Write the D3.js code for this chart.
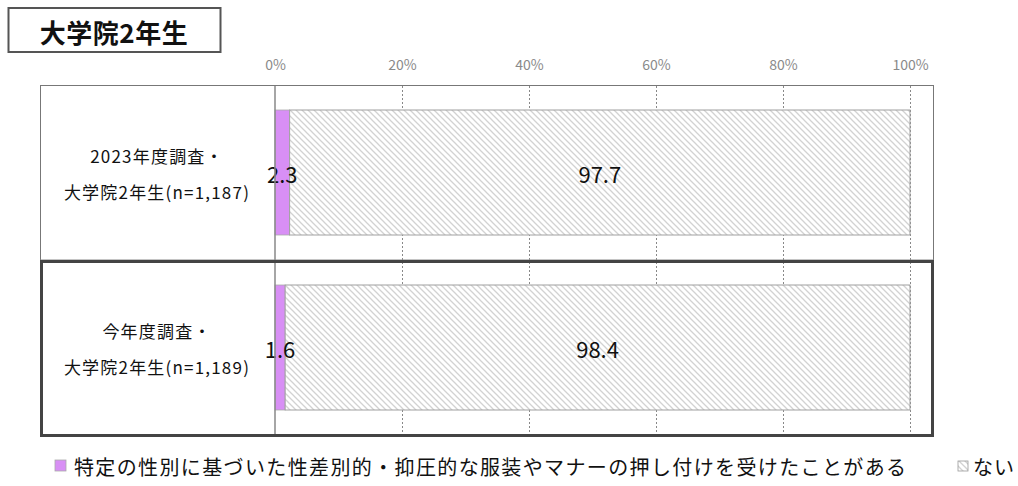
<!DOCTYPE html>
<html><head><meta charset="utf-8">
<script src="https://cdn.jsdelivr.net/npm/d3@7"></script>
<style>body{margin:0;background:#fff;}svg{display:block;font-family:"Noto Sans CJK JP","Noto Sans",sans-serif;}</style>
</head><body><div id="chart"></div>
<script>
const title = "大学院2年生";
const categoryLines = [["2023年度調査・", "大学院2年生(n=1,187)"], ["今年度調査・", "大学院2年生(n=1,189)"]];
const categories = ["2023", "2024"];
const experienced = [2.3, 1.6];
const none = [97.7, 98.4];
const ticks = [0, 20, 40, 60, 80, 100];
const seriesNames = ["特定の性別に基づいた性差別的・抑圧的な服装やマナーの押し付けを受けたことがある", "ない"];

const W = 1018, H = 486;
const svg = d3.select("#chart").append("svg").attr("width", W).attr("height", H);
const defs = svg.append("defs");
const pat = defs.append("pattern").attr("id", "hatch").attr("patternUnits", "userSpaceOnUse")
  .attr("width", 6).attr("height", 6);
pat.append("rect").attr("width", 6).attr("height", 6).attr("fill", "#fff");
pat.append("path").attr("d", "M-1,-1 L7,7 M-1,5 L1,7 M5,-1 L7,1").attr("stroke", "#d2d2d2").attr("stroke-width", 1.3);

const x = d3.scaleLinear().domain([0, 100]).range([275, 910]);
const y = d3.scaleBand().domain(categories).range([85, 435]).paddingInner(0).paddingOuter(0);
const barPad = 25;

// title box
svg.append("rect").attr("x", 8.5).attr("y", 8).attr("width", 212).attr("height", 44)
  .attr("fill", "#fff").attr("stroke", "#555").attr("stroke-width", 2);
svg.append("text").attr("x", 114).attr("y", 31).attr("text-anchor", "middle").attr("dominant-baseline", "central")
  .attr("font-size", 26).attr("font-weight", "bold").attr("letter-spacing", 0.5).attr("fill", "#111").text(title);

// outer plot frame
svg.append("rect").attr("x", 40.5).attr("y", 85.5).attr("width", 893).attr("height", 350)
  .attr("fill", "none").attr("stroke", "#777").attr("stroke-width", 1);

// top axis
const axis = d3.axisTop(x).tickValues(ticks).tickFormat(d => d + "%").tickSize(0).tickPadding(0);
const ag = svg.append("g").attr("transform", "translate(0,70)").call(axis);
ag.select(".domain").remove();
ag.selectAll("text").attr("font-size", 14).attr("fill", "#8a8a8a").attr("font-family", '"Noto Sans CJK JP",sans-serif');

// gridlines
svg.append("g").selectAll("line").data(ticks.filter(t => t > 0)).join("line")
  .attr("x1", d => x(d) + 0.5).attr("x2", d => x(d) + 0.5).attr("y1", 86).attr("y2", 435)
  .attr("stroke", "#888").attr("stroke-width", 1).attr("stroke-dasharray", "2,2");

// bars
const rows = svg.append("g").selectAll("g").data(categories).join("g");
rows.append("rect")
  .attr("x", x(0)).attr("y", d => y(d) + barPad)
  .attr("width", (d, i) => x(experienced[i]) - x(0)).attr("height", y.bandwidth() - 2 * barPad)
  .attr("fill", "#d88ff5").attr("stroke", "#aaa").attr("stroke-width", 0.8);
rows.append("rect")
  .attr("x", (d, i) => x(experienced[i])).attr("y", d => y(d) + barPad)
  .attr("width", (d, i) => x(experienced[i] + none[i]) - x(experienced[i])).attr("height", y.bandwidth() - 2 * barPad)
  .attr("fill", "url(#hatch)").attr("stroke", "#a0a0a0").attr("stroke-width", 1);

// zero line
svg.append("line").attr("x1", x(0)).attr("x2", x(0)).attr("y1", 86).attr("y2", 435)
  .attr("stroke", "#888").attr("stroke-width", 1.5);

// row separator
svg.append("line").attr("x1", 40).attr("x2", 934).attr("y1", y(categories[1])).attr("y2", y(categories[1]))
  .attr("stroke", "#888").attr("stroke-width", 1);

// highlighted row frame
svg.append("rect").attr("x", 41.5).attr("y", y(categories[1]) + 1.5).attr("width", 891).attr("height", y.bandwidth() - 1)
  .attr("fill", "none").attr("stroke", "#444").attr("stroke-width", 3);

// value labels
rows.append("text").attr("x", (d, i) => x(experienced[i] / 2)).attr("y", d => y(d) + y.bandwidth() / 2)
  .attr("text-anchor", "middle").attr("dominant-baseline", "central").attr("font-size", 22).attr("fill", "#111")
  .text((d, i) => experienced[i].toFixed(1));
rows.append("text").attr("x", (d, i) => x(experienced[i] + none[i] / 2)).attr("y", d => y(d) + y.bandwidth() / 2)
  .attr("text-anchor", "middle").attr("dominant-baseline", "central").attr("font-size", 22).attr("fill", "#111")
  .text((d, i) => none[i].toFixed(1));

// category labels
rows.each(function(d, i) {
  const g = d3.select(this);
  const cy = y(d) + y.bandwidth() / 2;
  categoryLines[i].forEach((line, j) => {
    g.append("text").attr("x", 157).attr("y", cy + (j === 0 ? -17 : 19))
      .attr("text-anchor", "middle").attr("dominant-baseline", "central")
      .attr("font-size", 17).attr("letter-spacing", 1.2).attr("fill", "#111").text(line);
  });
});

// legend
const lg = svg.append("g");
lg.append("rect").attr("x", 55).attr("y", 460).attr("width", 11).attr("height", 11).attr("fill", "#d88ff5").attr("stroke", "#aaa").attr("stroke-width", 0.8);
lg.append("text").attr("x", 74).attr("y", 466).attr("dominant-baseline", "central").attr("font-size", 20)
  .attr("fill", "#111").attr("textLength", 832).attr("lengthAdjust", "spacing").text(seriesNames[0]);
lg.append("rect").attr("x", 958).attr("y", 461).attr("width", 10).attr("height", 10).attr("fill", "url(#hatch)").attr("stroke", "#999").attr("stroke-width", 0.8);
lg.append("text").attr("x", 973).attr("y", 466).attr("dominant-baseline", "central").attr("font-size", 20)
  .attr("fill", "#111").attr("letter-spacing", 1).text(seriesNames[1]);
</script></body></html>
